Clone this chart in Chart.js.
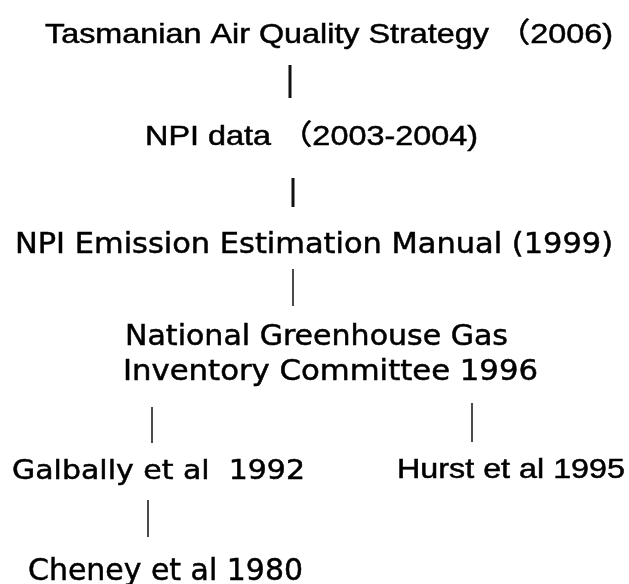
<!DOCTYPE html>
<html>
<head>
<meta charset="utf-8">
<script src="https://cdn.jsdelivr.net/npm/chart.js@4/dist/chart.umd.min.js"></script>
<style>
  html, body { margin: 0; padding: 0; background: #fff; }
  #wrap { width: 629px; height: 584px; }
</style>
</head>
<body>
<div id="wrap"><canvas id="tree" width="629" height="584"></canvas></div>
<script>
// Nœuds du schéma (texte, centre x, ligne de base y, largeur)
const nodeLabels = [
  'Tasmanian Air Quality Strategy \uFF082006)',
  'NPI data \uFF082003-2004)',
  'NPI Emission Estimation Manual (1999)',
  'National Greenhouse Gas',
  'Inventory Committee 1996',
  'Galbally et al  1992',
  'Hurst et al 1995',
  'Cheney et al 1980'
];
const nodeX     = [329, 311.5, 314, 316.5, 330.5, 158.5, 511, 165.5];
const nodeY     = [43, 145, 253, 345, 380, 479, 478, 580];
const nodeWidth = [568, 333, 598, 383, 415, 293, 228, 275];

// Liens verticaux (x, haut, bas)
const linkX      = [290, 293, 293, 152, 472, 148];
const linkTop    = [65, 178, 269, 407, 403, 500];
const linkBottom = [98, 207, 306, 443, 442, 537];

// Styles
const arial = "'Liberation Sans', Arial, 'Noto Sans CJK SC', sans-serif";
const verdana = "'DejaVu Sans', Verdana, sans-serif";
const nodeFont = [arial, arial, verdana, verdana, verdana, verdana, arial, verdana];
const nodeSize = [28, 28, 29, 28, 28, 27, 28, 30];
const linkWeight = [3, 3, 1.5, 1.5, 1.5, 1.5];

const labelsPlugin = {
  id: 'nodeLabels',
  afterDatasetsDraw(chart) {
    const { ctx, scales: { x, y } } = chart;
    nodeLabels.forEach((txt, i) => {
      const cx = x.getPixelForValue(nodeX[i]);
      const by = y.getPixelForValue(nodeY[i]);
      const w = x.getPixelForValue(nodeX[i] + nodeWidth[i] / 2) - x.getPixelForValue(nodeX[i] - nodeWidth[i] / 2);
      ctx.save();
      ctx.font = nodeSize[i] + 'px ' + nodeFont[i];
      const m = ctx.measureText(txt).width;
      ctx.translate(cx, by);
      ctx.scale(w / m, 1);
      ctx.textAlign = 'center';
      ctx.textBaseline = 'alphabetic';
      ctx.fillStyle = '#000';
      ctx.strokeStyle = '#000';
      ctx.lineWidth = 0.5;
      ctx.fillText(txt, 0, 0);
      ctx.strokeText(txt, 0, 0);
      ctx.restore();
    });
  }
};

const datasets = linkX.map((lx, i) => ({
  data: [{ x: lx, y: linkTop[i] }, { x: lx, y: linkBottom[i] }],
  borderColor: '#111',
  borderWidth: linkWeight[i],
  pointRadius: 0,
  borderCapStyle: 'butt'
}));

new Chart(document.getElementById('tree'), {
  type: 'line',
  data: { datasets },
  options: {
    responsive: false,
    animation: false,
    layout: { padding: 0 },
    plugins: { legend: { display: false }, tooltip: { enabled: false } },
    scales: {
      x: { type: 'linear', min: 0, max: 629, display: false },
      y: { type: 'linear', min: 0, max: 584, reverse: true, display: false }
    }
  },
  plugins: [labelsPlugin]
});
</script>
</body>
</html>
